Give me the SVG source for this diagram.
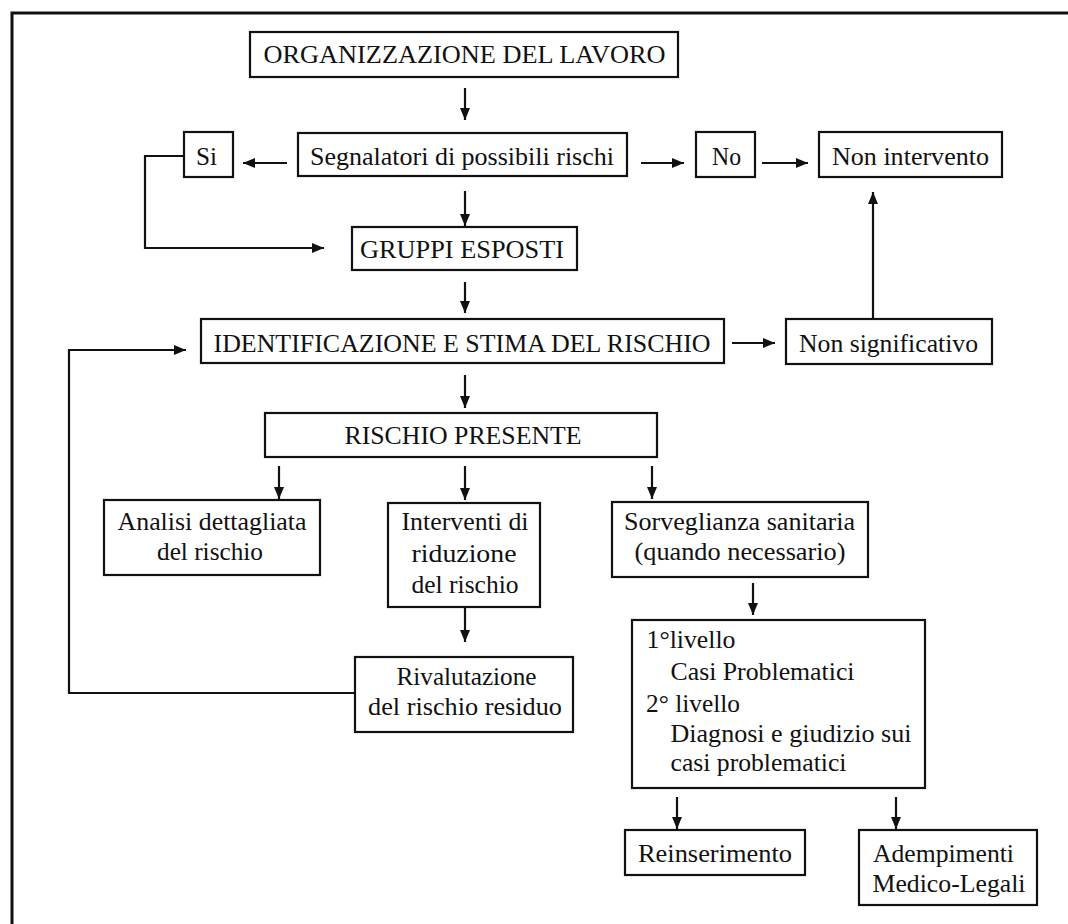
<svg xmlns="http://www.w3.org/2000/svg" width="1068" height="924" viewBox="0 0 1068 924">
<style>
.box{fill:#fff;stroke:#111;stroke-width:2.2}
.t{font-family:"Liberation Serif","Times New Roman",serif;font-size:26px;fill:#111;text-anchor:middle}
.l{text-anchor:start}
.c{fill:none;stroke:#111;stroke-width:2.2}
</style>
<defs>
<marker id="ah" markerUnits="userSpaceOnUse" markerWidth="14" markerHeight="12" refX="12" refY="5" orient="auto">
<path d="M0,0 L12,5 L0,10 Z" fill="#111"/>
</marker>
</defs>
<rect width="1068" height="924" fill="#fff"/>
<g id="frame">
<path d="M12,924 V13 H1068" fill="none" stroke="#111" stroke-width="3"/>
</g>
<g id="connectors">
<path class="c" d="M465,88 V120" marker-end="url(#ah)"/>
<path class="c" d="M287,163 H243" marker-end="url(#ah)"/>
<path class="c" d="M641,163 H684" marker-end="url(#ah)"/>
<path class="c" d="M762,163 H808" marker-end="url(#ah)"/>
<path class="c" d="M184,156 H145 V248 H324" marker-end="url(#ah)"/>
<path class="c" d="M465,191 V226" marker-end="url(#ah)"/>
<path class="c" d="M465,282 V313" marker-end="url(#ah)"/>
<path class="c" d="M732,343 H775" marker-end="url(#ah)"/>
<path class="c" d="M873,318 V192" marker-end="url(#ah)"/>
<path class="c" d="M465,375 V408" marker-end="url(#ah)"/>
<path class="c" d="M279,466 V499" marker-end="url(#ah)"/>
<path class="c" d="M465,466 V500" marker-end="url(#ah)"/>
<path class="c" d="M652,466 V499" marker-end="url(#ah)"/>
<path class="c" d="M753,583 V615" marker-end="url(#ah)"/>
<path class="c" d="M465,607 V642" marker-end="url(#ah)"/>
<path class="c" d="M355,693 H69 V350 H186" marker-end="url(#ah)"/>
<path class="c" d="M677,797 V829" marker-end="url(#ah)"/>
<path class="c" d="M896,797 V829" marker-end="url(#ah)"/>
</g>
<g id="n-org"><rect class="box" x="250" y="32" width="428" height="45"/><text class="t" x="464.5" y="63" textLength="402" lengthAdjust="spacingAndGlyphs">ORGANIZZAZIONE DEL LAVORO</text></g>
<g id="n-si"><rect class="box" x="184" y="132" width="49" height="45"/><text class="t" x="206.5" y="165" textLength="21" lengthAdjust="spacingAndGlyphs">Si</text></g>
<g id="n-segn"><rect class="box" x="298" y="133" width="329" height="43"/><text class="t" x="462" y="165" textLength="304" lengthAdjust="spacingAndGlyphs">Segnalatori di possibili rischi</text></g>
<g id="n-no"><rect class="box" x="696" y="132" width="59" height="45"/><text class="t" x="726.5" y="165" textLength="29" lengthAdjust="spacingAndGlyphs">No</text></g>
<g id="n-nonint"><rect class="box" x="819" y="132" width="183" height="45"/><text class="t" x="910.5" y="165" textLength="157" lengthAdjust="spacingAndGlyphs">Non intervento</text></g>
<g id="n-gruppi"><rect class="box" x="352" y="227" width="225" height="43"/><text class="t" x="462" y="258" textLength="204" lengthAdjust="spacingAndGlyphs">GRUPPI ESPOSTI</text></g>
<g id="n-ident"><rect class="box" x="201" y="319" width="523" height="44"/><text class="t" x="462" y="352" textLength="497" lengthAdjust="spacingAndGlyphs">IDENTIFICAZIONE E STIMA DEL RISCHIO</text></g>
<g id="n-nonsig"><rect class="box" x="786" y="319" width="206" height="45"/><text class="t" x="888.5" y="352" textLength="179" lengthAdjust="spacingAndGlyphs">Non significativo</text></g>
<g id="n-rischio"><rect class="box" x="265" y="413" width="392" height="44"/><text class="t" x="463" y="444" textLength="237" lengthAdjust="spacingAndGlyphs">RISCHIO PRESENTE</text></g>
<g id="n-analisi"><rect class="box" x="104" y="500" width="216" height="75"/><text class="t" x="212" y="530" textLength="189" lengthAdjust="spacingAndGlyphs">Analisi dettagliata</text><text class="t" x="210" y="560" textLength="106" lengthAdjust="spacingAndGlyphs">del rischio</text></g>
<g id="n-interv"><rect class="box" x="388" y="503" width="152" height="104"/><text class="t" x="465" y="530" textLength="127" lengthAdjust="spacingAndGlyphs">Interventi di</text><text class="t" x="464" y="562" textLength="105" lengthAdjust="spacingAndGlyphs">riduzione</text><text class="t" x="465" y="593" textLength="107" lengthAdjust="spacingAndGlyphs">del rischio</text></g>
<g id="n-sorv"><rect class="box" x="612" y="502" width="256" height="75"/><text class="t" x="739.5" y="530" textLength="231" lengthAdjust="spacingAndGlyphs">Sorveglianza sanitaria</text><text class="t" x="740" y="560" textLength="211" lengthAdjust="spacingAndGlyphs">(quando necessario)</text></g>
<g id="n-rival"><rect class="box" x="355" y="657" width="218" height="75"/><text class="t" x="466.5" y="685" textLength="140" lengthAdjust="spacingAndGlyphs">Rivalutazione</text><text class="t" x="465" y="715" textLength="194" lengthAdjust="spacingAndGlyphs">del rischio residuo</text></g>
<g id="n-livelli"><rect class="box" x="632" y="620" width="293" height="168"/>
<text class="t l" x="646.5" y="648" textLength="89" lengthAdjust="spacingAndGlyphs">1°livello</text>
<text class="t l" x="670.5" y="680" textLength="184" lengthAdjust="spacingAndGlyphs">Casi Problematici</text>
<text class="t l" x="646" y="712" textLength="94" lengthAdjust="spacingAndGlyphs">2° livello</text>
<text class="t l" x="670.5" y="742" textLength="241" lengthAdjust="spacingAndGlyphs">Diagnosi e giudizio sui</text>
<text class="t l" x="670.5" y="771" textLength="176" lengthAdjust="spacingAndGlyphs">casi problematici</text></g>
<g id="n-reins"><rect class="box" x="625" y="830" width="180" height="45"/><text class="t" x="715" y="862" textLength="154" lengthAdjust="spacingAndGlyphs">Reinserimento</text></g>
<g id="n-ademp"><rect class="box" x="859" y="830" width="178" height="75"/><text class="t" x="943.5" y="862" textLength="141" lengthAdjust="spacingAndGlyphs">Adempimenti</text><text class="t" x="949" y="892" textLength="153" lengthAdjust="spacingAndGlyphs">Medico-Legali</text></g>
</svg>
